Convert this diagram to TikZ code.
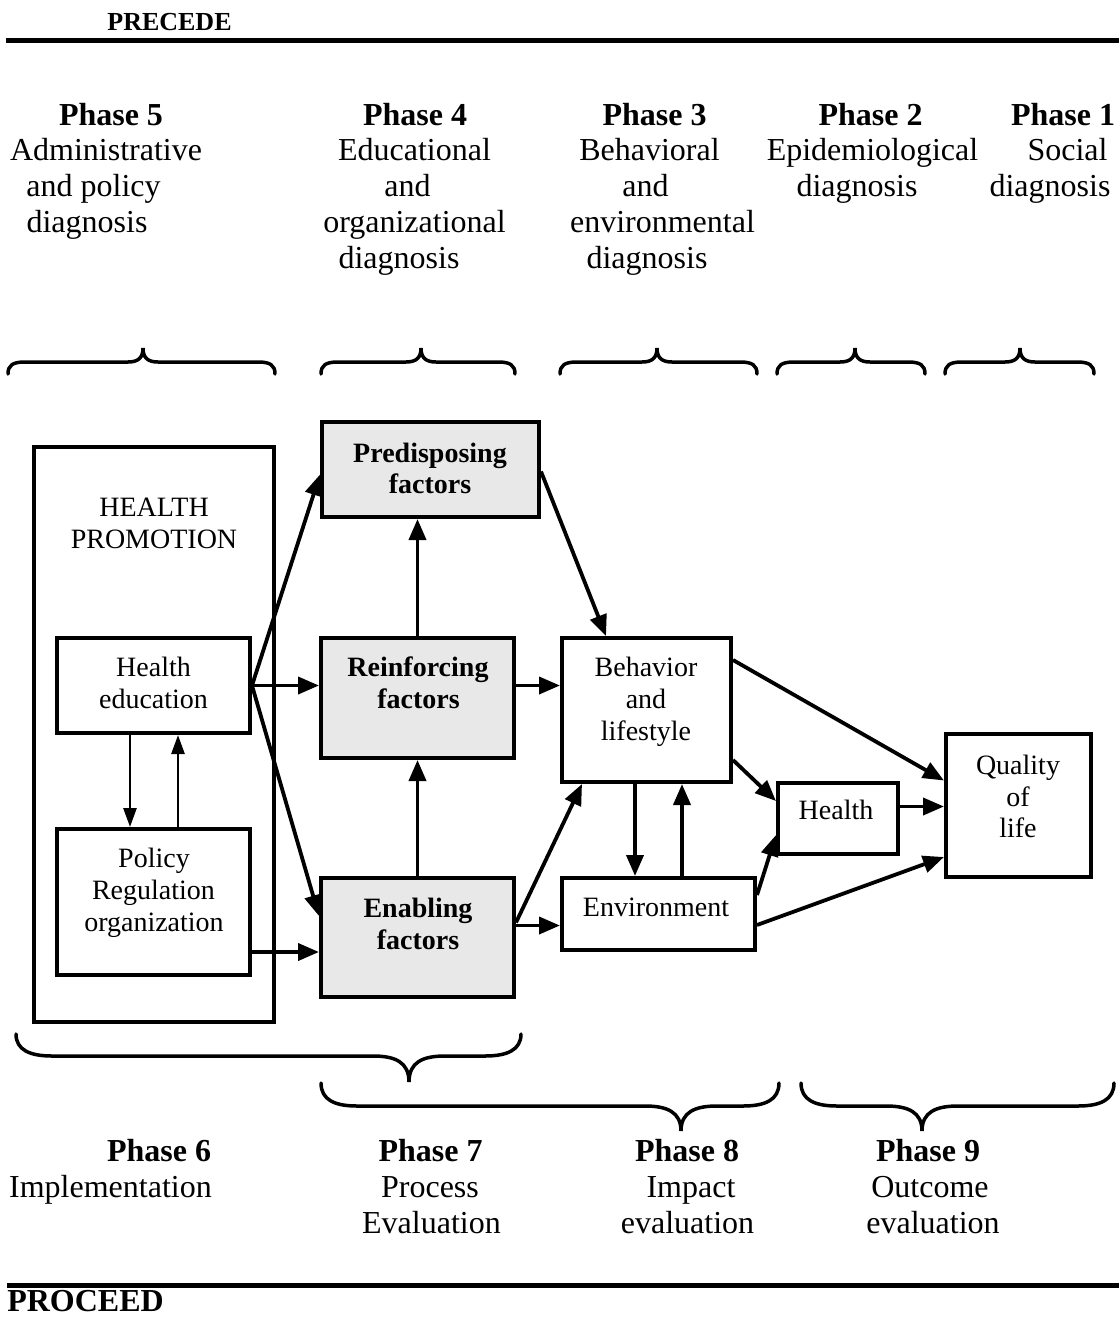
\documentclass[tikz,border=0pt]{standalone}
\usepackage{fontspec}
\setmainfont{Liberation Serif}
\usetikzlibrary{arrows.meta,calc}
\definecolor{factgray}{HTML}{E8E8E8}
\newcommand\Tbrace[3]{%
 \draw[brace] (#1,374) .. controls (#1,365) and (#1+5,362) .. (#1+17,362) -- (#2-15,362) .. controls (#2-5,362) and (#2,358) .. (#2,348) .. controls (#2,358) and (#2+5,362) .. (#2+15,362) -- (#3-17,362) .. controls (#3-5,362) and (#3,365) .. (#3,374);}
\newcommand\Bbrace[6]{%
 \draw[brace] (#1,#4) .. controls (#1,#5-6) and (#1+14,#5) .. (#1+36,#5) -- (#2-36,#5) .. controls (#2-14,#5) and (#2,#5+6) .. (#2,#6) .. controls (#2,#5+6) and (#2+14,#5) .. (#2+36,#5) -- (#3-36,#5) .. controls (#3-14,#5) and (#3,#5-6) .. (#3,#4);}
\begin{document}
\begin{tikzpicture}[x=1pt,y=-1pt,
 hd/.style={font=\fontsize{32}{36}\selectfont,anchor=base,inner sep=0pt},
 hdb/.style={font=\fontsize{32}{36}\selectfont\bfseries,anchor=base,inner sep=0pt},
 bt/.style={font=\fontsize{28}{32}\selectfont,anchor=base,inner sep=0pt},
 btb/.style={font=\fontsize{28}{32}\selectfont\bfseries,anchor=base,inner sep=0pt},
 box/.style={draw,line width=4pt,rectangle,inner sep=0pt},
 gbox/.style={box,fill=factgray},
 arr/.style={line width=3.8pt,-{Triangle[length=21pt,width=17pt]}},
 tarr/.style={line width=2.6pt,-{Triangle[length=19pt,width=13pt]}},
 brace/.style={line width=3.5pt,line cap=round}
]
\useasboundingbox (0,0) rectangle (1119,1318);

% rules and titles
\draw[line width=5pt] (6,40) -- (1119,40);
\draw[line width=5pt] (7,1285) -- (1119,1285);
\node[font=\fontsize{26}{30}\selectfont\bfseries,anchor=base,inner sep=0pt] (precede) at (169.5,30) {PRECEDE};
\node[font=\fontsize{32}{36}\selectfont\bfseries,anchor=base,inner sep=0pt] (proceed) at (85.5,1311) {PROCEED};

% top phase texts
\node[hdb] (p5h) at (111,125) {Phase 5};
\node[hd] (p5a) at (106,160) {Administrative};
\node[hd] (p5b) at (93.5,196) {and policy};
\node[hd] (p5c) at (87,232) {diagnosis};
\node[hdb] (p4h) at (415,125) {Phase 4};
\node[hd] (p4a) at (414.5,160) {Educational};
\node[hd] (p4b) at (407.5,196) {and};
\node[hd] (p4c) at (414.5,232) {organizational};
\node[hd] (p4d) at (399,268) {diagnosis};
\node[hdb] (p3h) at (654.5,125) {Phase 3};
\node[hd] (p3a) at (649.5,160) {Behavioral};
\node[hd] (p3b) at (645.5,196) {and};
\node[hd] (p3c) at (662.5,232) {environmental};
\node[hd] (p3d) at (647,268) {diagnosis};
\node[hdb] (p2h) at (870.5,125) {Phase 2};
\node[hd] (p2a) at (872.5,160) {Epidemiological};
\node[hd] (p2b) at (857,196) {diagnosis};
\node[hdb] (p1h) at (1063,125) {Phase 1};
\node[hd] (p1a) at (1067.5,160) {Social};
\node[hd] (p1b) at (1050,196) {diagnosis};

% bottom phase texts
\node[hdb] (p6h) at (159,1161) {Phase 6};
\node[hd] (p6a) at (110.5,1197) {Implementation};
\node[hdb] (p7h) at (430.5,1161) {Phase 7};
\node[hd] (p7a) at (430,1197) {Process};
\node[hd] (p7b) at (431.5,1233) {Evaluation};
\node[hdb] (p8h) at (687,1161) {Phase 8};
\node[hd] (p8a) at (691,1197) {Impact};
\node[hd] (p8b) at (687.5,1233) {evaluation};
\node[hdb] (p9h) at (928,1161) {Phase 9};
\node[hd] (p9a) at (930,1197) {Outcome};
\node[hd] (p9b) at (933,1233) {evaluation};

% braces
\Tbrace{8}{143}{275}
\Tbrace{321}{421}{515}
\Tbrace{560}{657}{757}
\Tbrace{777}{855}{925}
\Tbrace{945}{1020}{1094}
\Bbrace{16}{409}{521}{1034}{1056}{1082}
\Bbrace{321}{681}{779}{1083}{1106}{1131}
\Bbrace{801}{922}{1114}{1083}{1106}{1131}

% boxes
\node[box,minimum width=240,minimum height=575] (hp) at (154,734.5) {};
\node[box,minimum width=193,minimum height=95] (he) at (153.5,685.5) {};
\node[box,minimum width=193,minimum height=146] (pol) at (153.5,902) {};
\node[gbox,minimum width=217,minimum height=95] (pred) at (430.5,469.5) {};
\node[gbox,minimum width=193,minimum height=120] (re) at (417.5,698) {};
\node[gbox,minimum width=193,minimum height=119] (en) at (417.5,937.5) {};
\node[box,minimum width=169,minimum height=144] (beh) at (646.5,710) {};
\node[box,minimum width=193,minimum height=72] (env) at (658.5,914) {};
\node[box,minimum width=120,minimum height=71] (hl) at (838,818.5) {};
\node[box,minimum width=145,minimum height=143] (qol) at (1018.5,805.5) {};

% box texts
\node[bt] (hpa) at (154,516) {HEALTH};
\node[bt] (hpb) at (154,548) {PROMOTION};
\node[bt] (hea) at (153.5,676) {Health};
\node[bt] (heb) at (153.5,708) {education};
\node[bt] (pola) at (154,867) {Policy};
\node[bt] (polb) at (153.5,899) {Regulation};
\node[bt] (polc) at (154,931) {organization};
\node[btb] (preda) at (430,462) {Predisposing};
\node[btb] (predb) at (430,493) {factors};
\node[btb] (rea) at (418,676) {Reinforcing};
\node[btb] (reb) at (418.5,708) {factors};
\node[btb] (ena) at (418,917) {Enabling};
\node[btb] (enb) at (418,949) {factors};
\node[bt] (beha) at (646,676) {Behavior};
\node[bt] (behb) at (646,708) {and};
\node[bt] (behc) at (646,740) {lifestyle};
\node[bt] (enva) at (656,916) {Environment};
\node[bt] (hla) at (836,819) {Health};
\node[bt] (qola) at (1018,774) {Quality};
\node[bt] (qolb) at (1018,806) {of};
\node[bt] (qolc) at (1018,837) {life};

% connectors
\coordinate (heo) at (he.east);
\draw[arr] (heo) -- ($(pred.west)+(0,5)$);
\draw[arr] (heo) -- (re.west |- heo);
\draw[arr] (heo) -- ($(en.north west)+(0,40)$);
\draw[tarr] ($(he.south)+(-23.5,0)$) -- ($(pol.north)+(-23.5,0)$);
\draw[tarr] ($(pol.north)+(24.5,0)$) -- ($(he.south)+(24.5,0)$);
\coordinate (polo) at ($(pol.south east)+(0,-25)$);
\draw[arr] (polo) -- (en.west |- polo);
\draw[arr] (re.north) -- (pred.south -| re.north);
\draw[arr] (en.north) -- (re.south);
\coordinate (reo) at (re.east |- heo);
\draw[arr] (reo) -- (beh.west |- reo);
\draw[arr] ($(pred.east)+(0,2)$) -- ($(beh.north west)+(46,0)$);
\coordinate (eno) at ($(en.east)+(0,-12)$);
\draw[arr] (eno) -- (env.west |- eno);
\draw[arr] ($(en.east)+(0,-15)$) -- ($(beh.south west)+(22,0)$);
\draw[arr] ($(beh.south)+(-11.5,0)$) -- (env.north -| {$(beh.south)+(-11.5,0)$});
\draw[arr] (env.north -| {$(beh.south)+(35.5,0)$}) -- ($(beh.south)+(35.5,0)$);
\draw[arr] ($(beh.north east)+(0,24)$) -- ($(qol.west)+(0,-25)$);
\draw[arr] ($(beh.south east)+(0,-24)$) -- ($(hl.north west)+(0,20)$);
\coordinate (hlo) at ($(hl.east)+(0,-12)$);
\draw[arr] (hlo) -- (qol.west |- hlo);
\draw[arr] ($(env.north east)+(0,19)$) -- ($(hl.south west)+(0,-21)$);
\draw[arr] ($(env.east)+(0,11)$) -- ($(qol.south west)+(0,-22)$);
\end{tikzpicture}
\end{document}
